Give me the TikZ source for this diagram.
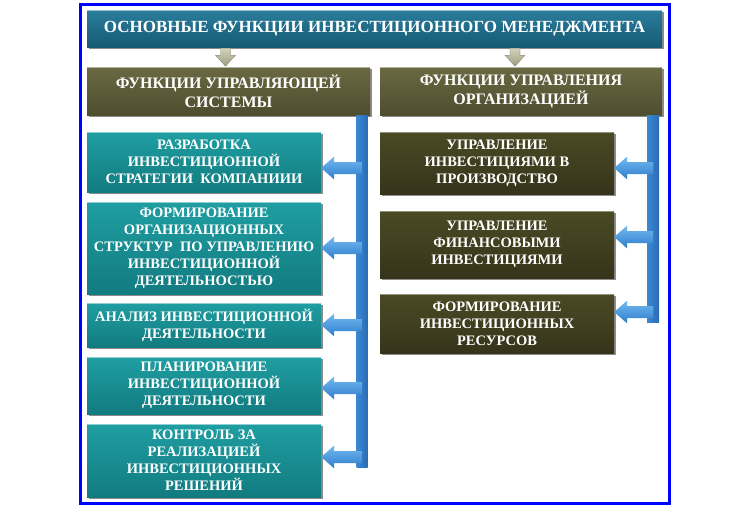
\documentclass[tikz,border=0pt]{standalone}
\usepackage{fontspec}
\setmainfont{Liberation Serif}
\usetikzlibrary{shadows,calc}
\definecolor{frameblue}{HTML}{0000FF}
\definecolor{titleT}{HTML}{2A7D9C}
\definecolor{titleB}{HTML}{165A74}
\definecolor{subT}{HTML}{6A6942}
\definecolor{subB}{HTML}{4E4D30}
\definecolor{tealT}{HTML}{1F9EA2}
\definecolor{tealB}{HTML}{127B80}
\definecolor{oliveT}{HTML}{4B4A25}
\definecolor{oliveB}{HTML}{35341A}
\definecolor{barL}{HTML}{3A88D4}
\definecolor{barM}{HTML}{7CC4F5}
\definecolor{barR}{HTML}{2A6CB4}
\definecolor{arrT}{HTML}{72BAF0}
\definecolor{arrB}{HTML}{2F7DCC}
\definecolor{dT}{HTML}{D2D2BE}
\definecolor{dB}{HTML}{9E9E80}
\newcommand\mydarrow[1]{\shade[top color=dT,bottom color=dB,draw=dB!80!black,line width=0.3pt] ($(#1)+(-5,1)$) -- ++(10,0) -- ++(0,7) -- ++(5,0) -- ++(-10,11) -- ++(-10,-11) -- ++(5,0) -- cycle;}
\newcommand\myharrow[2]{\shade[top color=arrT,bottom color=arrB] (#1) -- ++(13,-11.5) -- ++(0,5.5) -- ($(#1 -| #2)+(0,-6)$) -- ($(#1 -| #2)+(0,6)$) -- ($(#1)+(13,6)$) -- ++(0,5.5) -- cycle;}
\begin{document}
\begin{tikzpicture}[x=1pt,y=-1pt,
  box/.style={inner sep=1pt, align=center, text=white,
    drop shadow={shadow xshift=2pt, shadow yshift=-2pt, opacity=.45, fill=black}},
  bevel/.style={path picture={\draw[#1, line width=2pt] (path picture bounding box.north west) -- (path picture bounding box.north east);}},
  titlebox/.style={box, top color=titleT, bottom color=titleB, bevel=titleT!50!white,
    font=\fontsize{17}{20}\selectfont\bfseries},
  subbox/.style={box, top color=subT, bottom color=subB, bevel=subT!50!white,
    font=\fontsize{16}{19}\selectfont\bfseries},
  tealbox/.style={box, top color=tealT, bottom color=tealB, bevel=tealT!50!white,
    minimum width=234pt, font=\fontsize{14.5}{17}\selectfont\bfseries},
  olivebox/.style={box, top color=oliveT, bottom color=oliveB, bevel=oliveT!60!white,
    minimum width=234pt, font=\fontsize{14.5}{17}\selectfont\bfseries},
  barstyle/.style={left color=barL, middle color=barM, right color=barR}
]
\useasboundingbox (0,0) rectangle (750,509);
\fill[white] (0,0) rectangle (750,509);
\draw[frameblue, line width=3pt] (80,4) rectangle (669,503);

\node[titlebox, minimum width=575pt, minimum height=37pt] (title) at (374.5,28.5)
  {ОСНОВНЫЕ ФУНКЦИИ ИНВЕСТИЦИОННОГО МЕНЕДЖМЕНТА};
\node[subbox, minimum width=283pt, minimum height=48pt] (lsub) at (228.5,91)
  {ФУНКЦИИ УПРАВЛЯЮЩЕЙ\\СИСТЕМЫ};
\node[subbox, minimum width=282pt, minimum height=48pt] (rsub) at (521,91)
  {ФУНКЦИИ УПРАВЛЕНИЯ\\ОРГАНИЗАЦИЕЙ};

\node[tealbox, minimum height=60pt] (lb1) at (204,162)
  {РАЗРАБОТКА\\ИНВЕСТИЦИОННОЙ\\СТРАТЕГИИ\ \ КОМПАНИИИ};
\node[tealbox, minimum height=92pt] (lb2) at (204,248)
  {ФОРМИРОВАНИЕ\\ОРГАНИЗАЦИОННЫХ\\СТРУКТУР\ \ ПО УПРАВЛЕНИЮ\\ИНВЕСТИЦИОННОЙ\\ДЕЯТЕЛЬНОСТЬЮ};
\node[tealbox, minimum height=44pt] (lb3) at (204,325)
  {АНАЛИЗ ИНВЕСТИЦИОННОЙ\\ДЕЯТЕЛЬНОСТИ};
\node[tealbox, minimum height=57pt] (lb4) at (204,385.5)
  {ПЛАНИРОВАНИЕ\\ИНВЕСТИЦИОННОЙ\\ДЕЯТЕЛЬНОСТИ};
\node[tealbox, minimum height=73pt] (lb5) at (204,460.5)
  {КОНТРОЛЬ ЗА\\РЕАЛИЗАЦИЕЙ\\ИНВЕСТИЦИОННЫХ\\РЕШЕНИЙ};

\node[olivebox, minimum height=62pt] (rb1) at (497,163)
  {УПРАВЛЕНИЕ\\ИНВЕСТИЦИЯМИ В\\ПРОИЗВОДСТВО};
\node[olivebox, minimum height=67pt] (rb2) at (497,244.5)
  {УПРАВЛЕНИЕ\\ФИНАНСОВЫМИ\\ИНВЕСТИЦИЯМИ};
\node[olivebox, minimum height=59pt] (rb3) at (497,323.5)
  {ФОРМИРОВАНИЕ\\ИНВЕСТИЦИОННЫХ\\РЕСУРСОВ};

% down arrows
\coordinate (d1) at ([xshift=-3pt]lsub.north |- title.south);
\coordinate (d2) at ([xshift=-6pt]rsub.north |- title.south);
\mydarrow{d1}
\mydarrow{d2}

% bars
\coordinate (lbx) at (362,0);
\coordinate (rbx) at (653,0);
\coordinate (la1) at ([yshift=-6pt]lb1.east);
\coordinate (la2) at (lb2.east);
\coordinate (la3) at (lb3.east);
\coordinate (la4) at ([yshift=-2.5pt]lb4.east);
\coordinate (la5) at ([yshift=3.5pt]lb5.east);
\coordinate (ra1) at ([yshift=-5pt]rb1.east);
\coordinate (ra2) at ([yshift=7.5pt]rb2.east);
\coordinate (ra3) at ([yshift=11.5pt]rb3.east);

\shade[barstyle] ($(lsub.south -| lbx)+(-5.5,0)$) rectangle ($(la5 -| lbx)+(5.5,10)$);
\shade[barstyle] ($(rsub.south -| rbx)+(-6,0)$) rectangle ($(ra3 -| rbx)+(6,10)$);

\foreach \a in {la1,la2,la3,la4,la5} {\myharrow{\a}{lbx}}
\foreach \a in {ra1,ra2,ra3} {\myharrow{\a}{rbx}}
\end{tikzpicture}
\end{document}
